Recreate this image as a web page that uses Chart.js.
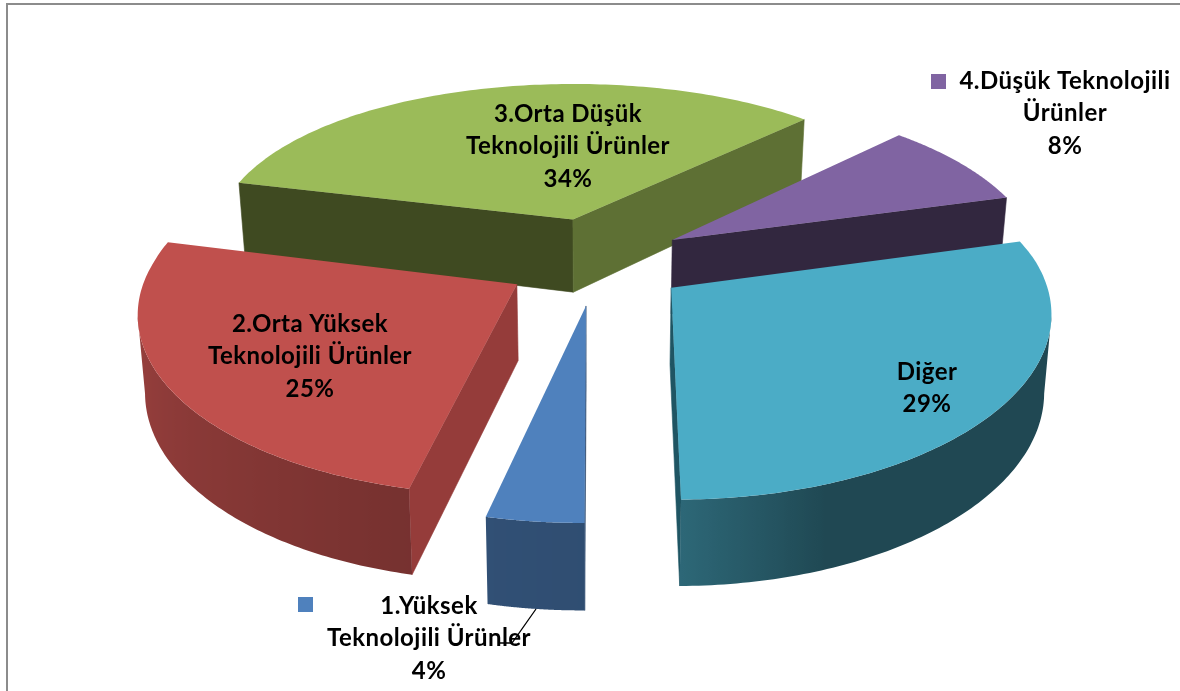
<!DOCTYPE html>
<html><head><meta charset="utf-8">
<style>html,body{margin:0;padding:0;background:#fff}canvas{display:block}</style>
<script src="https://cdn.jsdelivr.net/npm/chart.js@4/dist/chart.umd.min.js"></script>
</head><body><canvas id="c" width="1180" height="691"></canvas>
<script>
const categories = ["1.Yüksek Teknolojili Ürünler","2.Orta Yüksek Teknolojili Ürünler","3.Orta Düşük Teknolojili Ürünler","4.Düşük Teknolojili Ürünler","Diğer"];
const shares = [3.7,25.3,34,8,29];
const labelLines = [["1.Yüksek","Teknolojili Ürünler"],["2.Orta Yüksek","Teknolojili Ürünler"],["3.Orta Düşük","Teknolojili Ürünler"],["4.Düşük Teknolojili","Ürünler"],["Diğer"]];
const topColors = ["#4f81bd","#c0504d","#9bbb59","#8064a2","#4bacc6"];
const startWallColors = ["#2f4b70","#953c3a","#3f4a21","#32273f","#1f4652"];
const endWallColors = ["#2f4b70","#953c3a","#5e7034","#32273f","#1f5563"];
const shadeAngles = [0,90,160,180,195,285,360];
const shadeLevels = [0.42,0.42,0.42,0.60,0.62,0.86,0.86];
const explosionPct = [25,25,25,24,25];
const labelCenters = [[429,606],[310,324],[568,114],[1065,81],[927,372]];
const keyBoxes = [[298,597],[178,316],[438,106],[931,74],[869,363]];
const view = {sx:1.47, sy:0.676, persX:0.13, persXZero:0.3, backShear:8, persY:0.155, tilt:2, depth:75, depthSlope:10, converge:0.016};
const lineGap = 32.5;

function shade(theta){
  for(let i=1;i<shadeAngles.length;i++){
    if(theta<=shadeAngles[i]){
      const t=(theta-shadeAngles[i-1])/(shadeAngles[i]-shadeAngles[i-1]);
      return shadeLevels[i-1]+t*(shadeLevels[i]-shadeLevels[i-1]);
    }
  }
  return shadeLevels[shadeLevels.length-1];
}
function darken(hex,f){
  const n=parseInt(hex.slice(1),16);
  return `rgb(${Math.round((n>>16&255)*f)},${Math.round((n>>8&255)*f)},${Math.round((n&255)*f)})`;
}
const pie3d = {
  id:'pie3d',
  beforeDatasetDraw(){ return false; },
  afterDatasetsDraw(chart){
    const ctx=chart.ctx, arcs=chart.getDatasetMeta(0).data;
    const items=arcs.map((el,i)=>{
      const R=el.outerRadius, A=view.sx*R, B=view.sy*R, ex=explosionPct[i]/100, m=(el.startAngle+el.endAngle)/2;
      const ox=ex*Math.cos(m), oy=ex*Math.sin(m);
      const project=(r,a)=>{
        const X=ox+r*Math.cos(a), Y=oy+r*Math.sin(a);
        const x=el.x+A*X*(1+view.persX*(Y-view.persXZero))+view.backShear*Math.min(Y,0);
        const y=el.y+B*Y*(1+view.persY*Y)-view.tilt*X;
        return {x,y,bx:el.x+(x-el.x)*(1-view.converge),by:y+view.depth+view.depthSlope*Y};
      };
      return {el,i,oy,project};
    }).sort((a,b)=>a.oy-b.oy);
    const quad=(p,q,col)=>{
      ctx.fillStyle=col; ctx.strokeStyle=col; ctx.lineWidth=0.6;
      ctx.beginPath(); ctx.moveTo(p.x,p.y); ctx.lineTo(q.x,q.y); ctx.lineTo(q.bx,q.by); ctx.lineTo(p.bx,p.by); ctx.closePath(); ctx.fill(); ctx.stroke();
    };
    for(const {el,i,project} of items){
      const n=120, a0=el.startAngle, a1=el.endAngle;
      const apex=project(0,0), pts=[];
      for(let k=0;k<=n;k++) pts.push(project(1,a0+(a1-a0)*k/n));
      if(pts[0].x<apex.x+1) quad(apex,pts[0],startWallColors[i]);
      if(apex.x<pts[n].x+1) quad(pts[n],apex,endWallColors[i]);
      // curved outer wall: one path, shaded across its width
      const vis=[];
      for(let k=0;k<=n;k++){
        const leftward=(k<n&&pts[k+1].x<pts[k].x)||(k>0&&pts[k].x<pts[k-1].x);
        if(leftward) vis.push(k);
      }
      if(vis.length>1){
        const xs=vis.map(k=>pts[k].x), xmin=Math.min(...xs), xmax=Math.max(...xs);
        const g=ctx.createLinearGradient(xmin,0,xmax,0);
        vis.forEach(k=>{
          const th=(((a0+(a1-a0)*k/n)*180/Math.PI+90)%360+360)%360;
          g.addColorStop((pts[k].x-xmin)/(xmax-xmin),darken(topColors[i],shade(th)));
        });
        ctx.fillStyle=g;
        ctx.beginPath();
        vis.forEach((k,j)=>{j?ctx.lineTo(pts[k].x,pts[k].y):ctx.moveTo(pts[k].x,pts[k].y);});
        vis.slice().reverse().forEach(k=>ctx.lineTo(pts[k].bx,pts[k].by));
        ctx.closePath(); ctx.fill();
      }
      ctx.fillStyle=topColors[i];
      ctx.beginPath(); ctx.moveTo(apex.x,apex.y); pts.forEach(p=>ctx.lineTo(p.x,p.y)); ctx.closePath(); ctx.fill();
    }
    // frame
    ctx.strokeStyle='#8c8c8c'; ctx.lineWidth=2;
    ctx.beginPath(); ctx.moveTo(7,691); ctx.lineTo(7,4); ctx.lineTo(1180,4); ctx.stroke();
    // leader line
    ctx.strokeStyle='#000'; ctx.lineWidth=1.3;
    ctx.beginPath(); ctx.moveTo(536,609); ctx.lineTo(512,643); ctx.lineTo(500,643); ctx.stroke();
    // labels
    ctx.textAlign='center'; ctx.textBaseline='middle'; ctx.font='bold 24px Lato'; ctx.letterSpacing='0.45px';
    const total=shares.reduce((a,b)=>a+b,0);
    labelLines.forEach((lines,i)=>{
      const all=[...lines,Math.round(shares[i]/total*100)+'%'];
      ctx.fillStyle=topColors[i]; ctx.fillRect(keyBoxes[i][0],keyBoxes[i][1],15,15);
      ctx.fillStyle='#000';
      all.forEach((t,j)=>ctx.fillText(t,labelCenters[i][0],labelCenters[i][1]+j*lineGap));
    });
    ctx.letterSpacing='0px';
  }
};
new Chart(document.getElementById('c'),{
  type:'pie',
  data:{labels:categories,datasets:[{data:shares,backgroundColor:topColors,borderWidth:0}]},
  options:{responsive:false,animation:false,rotation:180,
    layout:{padding:{left:14,bottom:170}},
    plugins:{legend:{display:false},tooltip:{enabled:false}}},
  plugins:[pie3d]
});
</script></body></html>
